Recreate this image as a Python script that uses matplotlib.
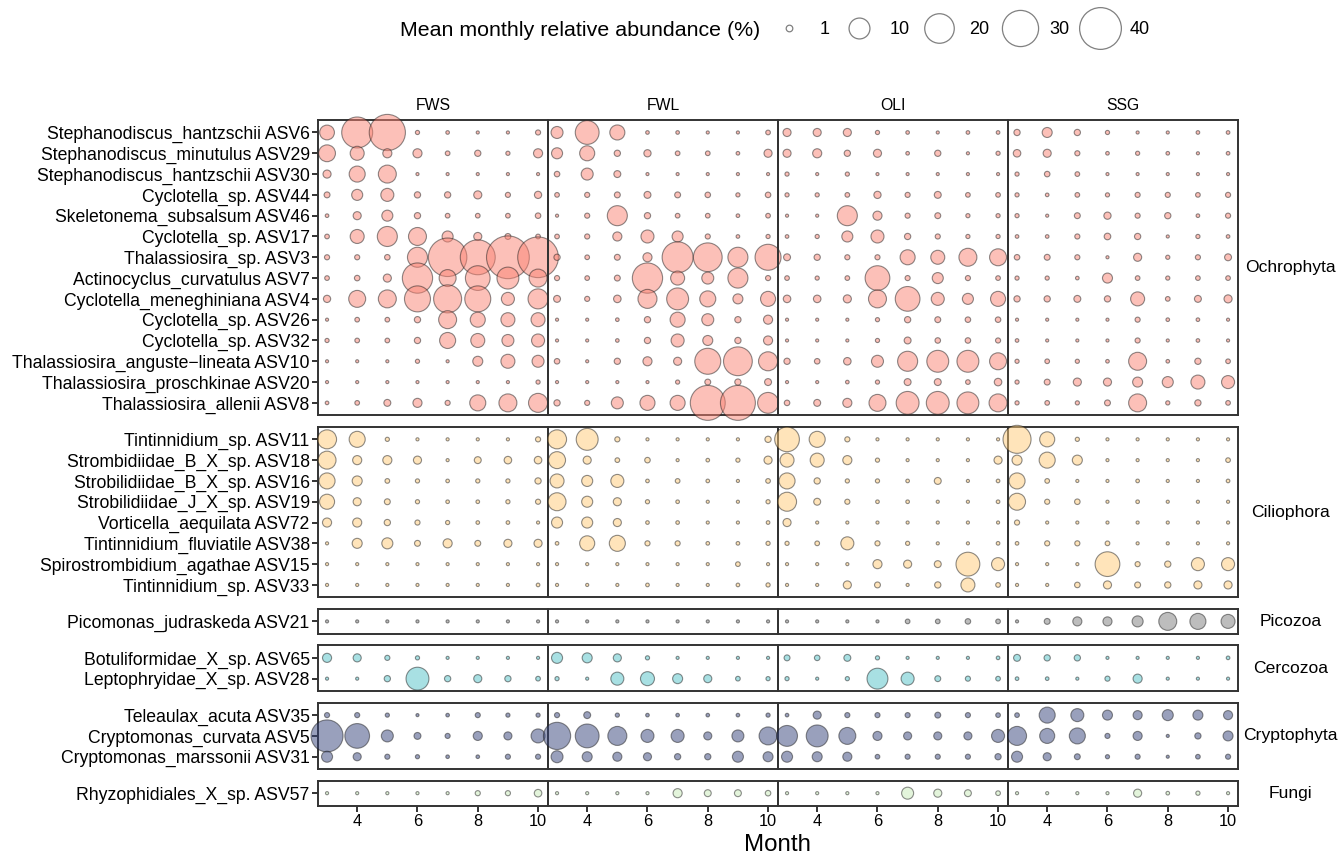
import matplotlib.pyplot as plt
from matplotlib.lines import Line2D
import numpy as np

plt.rcParams['font.family'] = ['Liberation Sans', 'DejaVu Sans']

months = [3, 4, 5, 6, 7, 8, 9, 10]
sites = ['FWS', 'FWL', 'OLI', 'SSG']
groups = ['Ochrophyta', 'Ciliophora', 'Picozoa', 'Cercozoa', 'Cryptophyta', 'Fungi']
group_sizes = [14, 8, 1, 2, 3, 1]
group_colors = ['#FB8373', '#FFCB77', '#7D7D7D', '#52C3C9', '#35437B', '#C9EBB9']

taxa = [
    'Stephanodiscus_hantzschii ASV6', 'Stephanodiscus_minutulus ASV29',
    'Stephanodiscus_hantzschii ASV30', 'Cyclotella_sp. ASV44',
    'Skeletonema_subsalsum ASV46', 'Cyclotella_sp. ASV17',
    'Thalassiosira_sp. ASV3', 'Actinocyclus_curvatulus ASV7',
    'Cyclotella_meneghiniana ASV4', 'Cyclotella_sp. ASV26',
    'Cyclotella_sp. ASV32', 'Thalassiosira_anguste\u2212lineata ASV10',
    'Thalassiosira_proschkinae ASV20', 'Thalassiosira_allenii ASV8',
    'Tintinnidium_sp. ASV11', 'Strombidiidae_B_X_sp. ASV18',
    'Strobilidiidae_B_X_sp. ASV16', 'Strobilidiidae_J_X_sp. ASV19',
    'Vorticella_aequilata ASV72', 'Tintinnidium_fluviatile ASV38',
    'Spirostrombidium_agathae ASV15', 'Tintinnidium_sp. ASV33',
    'Picomonas_judraskeda ASV21',
    'Botuliformidae_X_sp. ASV65', 'Leptophryidae_X_sp. ASV28',
    'Teleaulax_acuta ASV35', 'Cryptomonas_curvata ASV5', 'Cryptomonas_marssonii ASV31',
    'Rhyzophidiales_X_sp. ASV57',
]

# mean monthly relative abundance (%), one row per taxon, months 3..10
fws = [
    [5, 22, 30, 0.4, 0.3, 0.2, 0.2, 0.6],
    [6.5, 4.5, 1.9, 1.9, 0.5, 0.9, 0.4, 1.9],
    [1.5, 5.9, 7.4, 0.2, 0.2, 0.2, 0.2, 0.2],
    [0.8, 2.8, 3.9, 0.9, 0.9, 1.5, 0.6, 1.2],
    [0.3, 1.5, 2.8, 0.9, 0.5, 0.5, 0.5, 0.7],
    [0.5, 4.5, 9.2, 7.4, 2.8, 1.5, 0.8, 0.5],
    [0.6, 0.6, 0.7, 9.2, 34, 28, 42, 38],
    [0.5, 0.7, 1.5, 21, 6.6, 14, 11, 7.4],
    [1.2, 6.6, 7.4, 15.5, 18, 15.5, 3.9, 9.2],
    [0.2, 0.5, 0.5, 0.9, 7.4, 5.2, 4.5, 4.5],
    [0.4, 0.5, 0.5, 0.9, 5.9, 4.5, 3.3, 3.9],
    [0.2, 0.2, 0.2, 0.4, 0.2, 2.3, 4.5, 3.3],
    [0.2, 0.2, 0.2, 0.2, 0.2, 0.2, 0.2, 0.4],
    [0.3, 0.5, 1.1, 1.9, 0.6, 5.9, 7.4, 8.3],
    [8.3, 5.9, 0.4, 0.2, 0.2, 0.2, 0.2, 0.6],
    [7.4, 1.9, 1.9, 1.5, 0.2, 1.1, 1.3, 1.3],
    [5.9, 2.3, 0.5, 0.4, 0.3, 0.4, 0.4, 0.9],
    [5.2, 1.5, 0.8, 0.4, 0.3, 0.3, 0.4, 0.6],
    [1.9, 1.9, 0.9, 0.6, 0.4, 0.3, 0.3, 0.2],
    [0.2, 2.3, 2.8, 0.8, 1.9, 0.8, 1.5, 1.5],
    [0.2, 0.2, 0.2, 0.2, 0.2, 0.2, 0.2, 0.2],
    [0.2, 0.2, 0.2, 0.2, 0.2, 0.2, 0.2, 0.3],
    [0.2, 0.2, 0.2, 0.2, 0.2, 0.2, 0.2, 0.2],
    [1.9, 1.5, 0.6, 0.4, 0.2, 0.2, 0.2, 0.2],
    [0.2, 0.2, 0.9, 12, 0.9, 1.5, 0.9, 0.5],
    [0.6, 0.6, 0.4, 0.2, 0.3, 0.6, 0.4, 0.4],
    [23.5, 14, 3.3, 1.1, 0.6, 1.9, 1.5, 4.5],
    [2.8, 1.5, 0.6, 0.4, 0.3, 0.3, 0.6, 0.6],
    [0.2, 0.2, 0.2, 0.2, 0.2, 0.6, 0.6, 1.3],
]
fwl = [
    [3.3, 13, 5.2, 0.3, 0.3, 0.2, 0.2, 0.5],
    [2.8, 5.2, 0.9, 1.2, 0.5, 0.5, 0.3, 1.5],
    [0.7, 3.3, 1.1, 0.2, 0.2, 0.2, 0.2, 0.2],
    [0.5, 0.6, 0.8, 1.1, 0.8, 0.7, 0.4, 0.7],
    [0.2, 0.6, 9.2, 0.9, 0.5, 0.5, 0.3, 0.5],
    [0.5, 0.6, 1.9, 3.9, 2.8, 0.6, 0.3, 0.4],
    [0.9, 0.5, 0.8, 1.9, 22, 19, 9.2, 15.5],
    [0.6, 0.5, 0.8, 21, 4.5, 3.3, 9.2, 0.6],
    [1.1, 0.6, 1.3, 8.3, 11, 5.9, 2.3, 5.2],
    [0.2, 0.2, 0.3, 0.9, 5.2, 3.3, 0.9, 1.9],
    [0.2, 0.2, 0.3, 0.9, 3.9, 2.3, 0.9, 1.9],
    [0.7, 0.2, 0.9, 1.9, 1.5, 15.5, 19, 8.3],
    [0.2, 0.2, 0.2, 0.2, 0.4, 0.8, 0.9, 1.1],
    [0.9, 0.6, 3.3, 5.2, 5.2, 28, 28, 10],
    [8.3, 11, 0.6, 0.2, 0.2, 0.2, 0.2, 0.9],
    [6.6, 1.5, 0.5, 0.7, 0.2, 0.3, 0.4, 1.5],
    [4.5, 2.8, 3.9, 0.3, 0.5, 0.3, 0.2, 0.5],
    [7.4, 2.8, 1.5, 0.4, 0.3, 0.2, 0.2, 0.4],
    [2.8, 2.8, 1.5, 0.3, 0.3, 0.2, 0.2, 0.3],
    [0.3, 5.2, 5.9, 0.6, 0.6, 0.3, 0.3, 0.4],
    [0.2, 0.2, 0.2, 0.2, 0.2, 0.2, 0.5, 0.2],
    [0.2, 0.2, 0.2, 0.3, 0.2, 0.2, 0.3, 0.4],
    [0.2, 0.2, 0.2, 0.2, 0.2, 0.2, 0.2, 0.2],
    [2.8, 2.3, 1.5, 0.4, 0.2, 0.2, 0.2, 0.2],
    [0.4, 0.2, 3.9, 4.5, 2.3, 1.5, 0.5, 0.4],
    [0.6, 1.1, 0.4, 0.3, 0.3, 0.3, 0.3, 0.4],
    [17, 13, 8.3, 3.9, 3.9, 1.5, 3.3, 7.4],
    [3.3, 2.3, 1.9, 1.5, 0.9, 0.9, 2.8, 2.3],
    [0.2, 0.2, 0.2, 0.2, 1.9, 1.1, 1.1, 0.7],
]
oli = [
    [1.5, 1.5, 1.5, 0.4, 0.3, 0.2, 0.3, 0.3],
    [1.5, 1.9, 0.9, 1.5, 0.3, 0.9, 0.2, 0.4],
    [0.4, 0.2, 0.4, 0.2, 0.2, 0.2, 0.2, 0.2],
    [0.4, 0.4, 0.5, 1.2, 0.6, 1.1, 0.5, 0.5],
    [0.2, 0.2, 9.2, 1.9, 0.6, 0.8, 0.4, 0.4],
    [0.3, 0.4, 2.8, 3.9, 0.9, 0.6, 0.4, 0.4],
    [1.1, 0.9, 0.6, 0.6, 5.2, 4.5, 7.4, 6.6],
    [0.5, 0.4, 0.5, 14, 0.6, 2.8, 0.6, 0.5],
    [1.3, 1.3, 1.5, 7.4, 14, 3.9, 2.8, 5.2],
    [0.2, 0.2, 0.2, 0.4, 0.9, 0.8, 0.7, 0.7],
    [0.2, 0.2, 0.2, 0.4, 1.1, 0.7, 0.7, 0.6],
    [0.9, 0.7, 1.3, 3.3, 9.2, 11, 11, 6.6],
    [0.2, 0.2, 0.3, 0.4, 1.1, 1.1, 0.5, 1.3],
    [0.7, 1.1, 1.9, 6.6, 12, 12, 11, 7.4],
    [14, 5.9, 0.6, 0.2, 0.2, 0.2, 0.2, 0.2],
    [4.5, 4.5, 1.9, 0.4, 0.2, 0.2, 0.2, 1.5],
    [5.9, 0.9, 0.4, 0.4, 0.3, 1.1, 0.2, 0.3],
    [8.3, 1.1, 0.6, 0.3, 0.3, 0.2, 0.2, 0.3],
    [1.5, 0.2, 0.2, 0.2, 0.2, 0.2, 0.2, 0.2],
    [0.4, 0.5, 3.9, 0.6, 0.4, 0.2, 0.2, 0.3],
    [0.2, 0.2, 0.2, 1.9, 1.5, 1.1, 13, 3.9],
    [0.2, 0.2, 1.5, 0.8, 0.2, 0.9, 4.5, 0.5],
    [0.2, 0.2, 0.2, 0.2, 0.5, 0.5, 0.7, 0.5],
    [0.8, 0.7, 1.1, 0.4, 0.2, 0.2, 0.2, 0.3],
    [0.4, 0.2, 0.4, 10, 3.9, 0.8, 0.6, 0.5],
    [0.3, 1.5, 0.6, 0.6, 0.6, 0.8, 0.6, 0.5],
    [10, 11, 6.6, 1.9, 1.5, 1.5, 1.5, 3.9],
    [2.8, 2.3, 1.9, 0.5, 0.6, 0.6, 0.6, 0.9],
    [0.2, 0.2, 0.2, 0.2, 3.3, 1.5, 1.1, 0.5],
]
ssg = [
    [0.9, 2.3, 0.9, 0.4, 0.2, 0.2, 0.3, 0.3],
    [1.3, 1.5, 0.6, 0.3, 0.4, 0.3, 0.2, 0.3],
    [0.4, 0.7, 0.5, 0.2, 0.2, 0.2, 0.2, 0.2],
    [0.4, 0.3, 0.5, 0.4, 0.6, 0.6, 0.5, 0.6],
    [0.4, 0.2, 0.8, 1.2, 0.6, 0.9, 0.3, 0.6],
    [0.3, 0.3, 0.6, 1.0, 0.9, 0.2, 0.4, 0.3],
    [0.7, 0.8, 0.6, 0.2, 1.5, 0.4, 0.6, 1.1],
    [0.4, 0.4, 0.3, 2.3, 0.5, 0.4, 0.5, 0.5],
    [0.9, 0.9, 1.1, 0.9, 4.5, 0.5, 1.1, 1.5],
    [0.2, 0.2, 0.2, 0.2, 0.6, 0.3, 0.3, 0.2],
    [0.3, 0.2, 0.2, 0.2, 0.6, 0.2, 0.3, 0.2],
    [0.4, 0.5, 0.4, 0.3, 7.4, 0.3, 0.9, 0.5],
    [0.4, 0.8, 1.5, 1.5, 2.3, 2.8, 4.5, 3.9],
    [0.4, 0.5, 0.4, 0.8, 7.4, 0.4, 0.9, 0.5],
    [18, 5.2, 0.4, 0.2, 0.2, 0.2, 0.2, 0.2],
    [2.3, 5.9, 2.3, 0.2, 0.2, 0.2, 0.2, 0.5],
    [5.9, 0.5, 0.2, 0.2, 0.3, 0.2, 0.2, 0.3],
    [6.6, 0.6, 0.7, 0.2, 0.3, 0.2, 0.2, 0.2],
    [0.6, 0.2, 0.2, 0.2, 0.2, 0.2, 0.2, 0.2],
    [0.3, 0.6, 0.6, 0.5, 0.2, 0.2, 0.2, 0.2],
    [0.2, 0.2, 0.2, 14, 0.6, 0.9, 3.9, 3.9],
    [0.2, 0.2, 0.7, 1.5, 0.8, 0.9, 1.5, 1.5],
    [0.2, 0.8, 1.9, 1.9, 2.8, 7.4, 5.9, 4.5],
    [1.1, 0.9, 0.9, 0.2, 0.2, 0.2, 0.2, 0.3],
    [0.3, 0.3, 0.2, 0.6, 1.9, 0.2, 0.2, 0.2],
    [0.5, 5.9, 3.9, 2.3, 1.9, 2.8, 2.3, 1.9],
    [8.3, 5.2, 5.9, 0.6, 1.9, 0.2, 0.9, 2.3],
    [2.8, 1.5, 0.8, 0.4, 0.6, 0.2, 0.5, 0.6],
    [0.2, 0.2, 0.2, 0.2, 1.5, 0.3, 0.4, 0.2],
]
legend_values = [1, 10, 20, 30, 40]

site_data = [fws, fwl, oli, ssg]


def bubble_area(v):
    # marker area in pt^2, proportional to abundance
    return np.maximum(np.asarray(v, dtype=float) * 22.6, 5.0)


W, H = 1343, 857
fig = plt.figure(figsize=(W / 100, H / 100), dpi=100)

# layout in pixels
left, col_w, top = 318, 230, 120
unit, gap = 20.8, 11.5
frame_col = '#333333'

y0 = top
start = 0
for g, (grp, n) in enumerate(zip(groups, group_sizes)):
    h = (n - 1 + 1.2) * unit
    names = taxa[start:start + n]
    for j, site in enumerate(sites):
        ax = fig.add_axes([(left + j * col_w) / W, 1 - (y0 + h) / H, col_w / W, h / H])
        ax.set_facecolor('none')
        rows = site_data[j][start:start + n]
        for i, vals in enumerate(rows):
            ax.scatter(months, [i] * len(months), s=bubble_area(vals),
                       c=group_colors[g], alpha=0.5, edgecolors='#1e1e1e',
                       linewidths=0.8, clip_on=False, zorder=3)
        ax.set_xlim(2.7, 10.33)
        ax.set_ylim(n - 1 + 0.6, -0.6)
        for sp in ax.spines.values():
            sp.set_color(frame_col)
            sp.set_linewidth(1.4)
        if j == 0:
            ax.set_yticks(range(n))
            ax.set_yticklabels(names, fontsize=12.7, color='black')
            ax.tick_params(axis='y', length=4, width=1.4, color=frame_col, pad=2)
        else:
            ax.set_yticks([])
        if g == len(groups) - 1:
            ax.set_xticks([4, 6, 8, 10])
            ax.tick_params(axis='x', length=4, width=1.4, color=frame_col,
                           labelsize=11.8, pad=2)
        else:
            ax.set_xticks([])
        if g == 0:
            ax.set_title(site, fontsize=11.3, pad=7)
        if j == len(sites) - 1:
            ax.annotate(grp, xy=(1, 0.5), xycoords='axes fraction',
                        xytext=(38, 0), textcoords='offset points',
                        ha='center', va='center', fontsize=12.6)
    start += n
    y0 += h + gap

fig.text(778 / W, 1 - 845 / H, 'Month', ha='center', va='center', fontsize=17.4)

# size legend
fig.text(400 / W, 1 - 30 / H, 'Mean monthly relative abundance (%)',
         ha='left', va='center', fontsize=15.4)
handles = [Line2D([], [], linestyle='', marker='o', markersize=np.sqrt(bubble_area(v)),
                  markerfacecolor='none', markeredgecolor='#808080', markeredgewidth=0.9)
           for v in legend_values]
fig.legend(handles, [str(v) for v in legend_values], ncol=5, frameon=False,
           loc='center left', bbox_to_anchor=(774 / W, 1 - 30 / H),
           fontsize=13, handlelength=1.67, handletextpad=0.83, columnspacing=0.83,
           borderpad=0, borderaxespad=0)

fig.savefig('out.png', dpi=100)
